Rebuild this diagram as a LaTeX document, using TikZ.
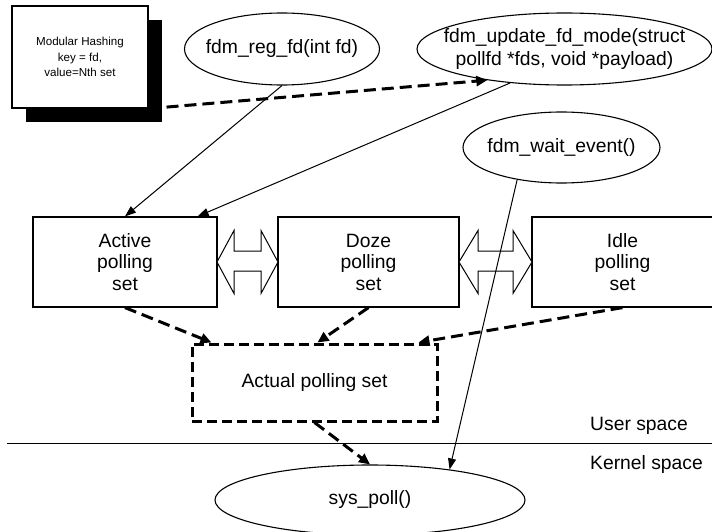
\documentclass[tikz,border=0pt]{standalone}
\usepackage{fontspec}
\setmainfont{Liberation Sans}
\usetikzlibrary{arrows.meta,shapes.geometric,shadows,calc}
\begin{document}
\begin{tikzpicture}[x=1pt,y=-1pt,
  every node/.style={font=\fontsize{19.3}{21.5}\selectfont},
  ellnode/.style={ellipse,draw,line width=1.1pt,inner xsep=-40pt,inner ysep=0pt,align=center},
  setbox/.style={rectangle,draw,line width=1.2pt,minimum height=90pt,align=center},
  solidarrow/.style={line width=1pt,-{Triangle[length=11pt,width=8pt]}},
  dasharrow/.style={line width=3pt,dash pattern=on 12pt off 6pt,-{Triangle[length=11pt,width=10pt]}},
  blockarrow/.style={draw,line width=1pt,fill=white,line join=miter},
]
\useasboundingbox (0,0) rectangle (712,532);

% hashing box with shadow
\node[rectangle,draw,line width=1.2pt,fill=white,minimum width=136pt,minimum height=102pt,
      drop shadow={shadow xshift=14pt,shadow yshift=-14pt,fill=black,opacity=1},
      align=center,font=\fontsize{11.6}{14.5}\selectfont] (hash) at (80,57)
      {Modular Hashing\\[1.5pt] key = fd,\\ value=Nth set};

% ellipses
\node[ellnode,minimum width=195pt,minimum height=72pt] (reg) at (282,49) {fdm\_reg\_fd(int fd)};
\node[ellnode,minimum width=295pt,minimum height=72pt,font=\fontsize{19.3}{23}\selectfont] (upd) at (564.5,49)
      {fdm\_update\_fd\_mode(struct\\ pollfd *fds, void *payload)};
\node[ellnode,minimum width=197pt,minimum height=71pt] (wait) at (561.5,147.5) {fdm\_wait\_event()};
\node[ellnode,minimum width=310pt,minimum height=70pt] (sys) at (370,500) {sys\_poll()};

% polling sets
\node[setbox,minimum width=184pt] (act) at (125,262) {Active\\polling\\set};
\node[setbox,minimum width=181pt] (doze) at (368.5,262) {Doze\\polling\\set};
\node[setbox,minimum width=181pt] (idle) at (622.5,262) {Idle\\polling\\set};

\node[rectangle,draw,line width=3pt,dash pattern=on 10pt off 5pt,minimum width=245pt,minimum height=77pt] (actual) at (314.5,382.5) {Actual polling set};

% block double arrows
\draw[blockarrow] (217,262) -- (234,230.5) -- (234,251) -- (261,251) -- (261,230.5) -- (278,262)
   -- (261,293.5) -- (261,271) -- (234,271) -- (234,293.5) -- cycle;
\draw[blockarrow] (459,262) -- (478,230.5) -- (478,251) -- (513,251) -- (513,230.5) -- (532,262)
   -- (513,293.5) -- (513,271) -- (478,271) -- (478,293.5) -- cycle;

% divider and labels
\draw[line width=1pt] (7,443) -- (712,443);
\node[anchor=west,inner sep=0pt] (us) at (590,426) {User space};
\node[anchor=west,inner sep=0pt] (ks) at (590,465) {Kernel space};

% connectors
\draw[solidarrow] (reg.south) -- (act.north);
\draw[solidarrow] (upd.212) -- ([xshift=-20pt]act.north east);
\draw[solidarrow] (wait.216) -- (sys.21);
\draw[dasharrow] (hash.south east) -- (upd.202);
\draw[dasharrow] (act.south) -- ([xshift=21pt]actual.north west);
\draw[dasharrow] (doze.south) -- ([xshift=3pt]actual.north);
\draw[dasharrow] (idle.south) -- ([xshift=-20pt]actual.north east);
\draw[dasharrow] (actual.south) -- (sys.north);
\end{tikzpicture}
\end{document}
